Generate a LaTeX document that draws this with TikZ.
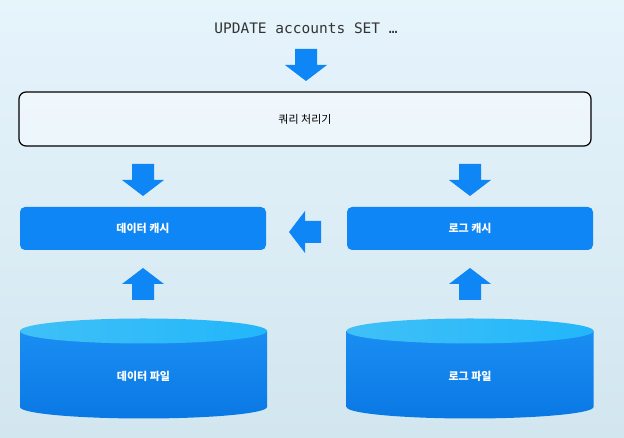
\documentclass[tikz,border=0pt]{standalone}
\usepackage{fontspec}
\newfontfamily\kr{Noto Sans CJK KR}
\newfontfamily\mono{DejaVu Sans Mono}
\definecolor{bgtop}{HTML}{E6F4FC}
\definecolor{bgbot}{HTML}{D2E6EF}
\definecolor{mblue}{HTML}{0F86F5}
\definecolor{cyltopA}{HTML}{40C0F7}
\definecolor{cyltopB}{HTML}{22B6FA}
\definecolor{cylbodyA}{HTML}{1A8EF3}
\definecolor{cylbodyB}{HTML}{0A78E4}
\tikzset{
  barrow/.pic={\fill[mblue] (-11,0) -- (-11,16) -- (11,16) -- (11,0) -- (21,0) -- (0,-16) -- (-21,0) -- cycle;},
  cachebox/.style={fill=mblue, rounded corners=5pt, minimum width=246pt, minimum height=43pt, inner sep=0pt,
    text=white, font=\kr\bfseries\fontsize{11}{13}\selectfont},
  cyllabel/.style={text=white, font=\kr\bfseries\fontsize{11}{13}\selectfont},
}
\begin{document}
\begin{tikzpicture}[x=1pt,y=1pt]
\shade[top color=bgtop,bottom color=bgbot] (0,0) rectangle (624,438);
\useasboundingbox (0,0) rectangle (624,438);
% title
\node[font=\mono\fontsize{14.5}{16}\selectfont, text=black!80] (title) at (306,410) {UPDATE accounts SET …};
\pic at (306,373) {barrow};
% query processor
\node[draw=black, line width=1.2pt, rounded corners=7pt, fill=white, fill opacity=0.45, text opacity=1,
  minimum width=572pt, minimum height=54pt, font=\kr\fontsize{11}{13}\selectfont] (qp) at (305,319) {쿼리 처리기};
\pic at (143,258) {barrow};
\pic at (470,258) {barrow};
% caches
\node[cachebox] (dc) at (143,209.5) {데이터 캐시};
\node[cachebox] (lc) at (470,209.5) {로그 캐시};
\pic[rotate=-90] at (305,206) {barrow};
\pic[rotate=180] at (143,154) {barrow};
\pic[rotate=180] at (470,154) {barrow};
% cylinders
\foreach \cx/\nm in {143.5/df,470/lf}{
  \shade[top color=cylbodyA, bottom color=cylbodyB]
    (\cx-123.5,107) -- (\cx-123.5,31) arc[start angle=180,end angle=360,x radius=123.5,y radius=11.5] -- (\cx+123.5,107) -- cycle;
  \shade[left color=cyltopA, right color=cyltopB] (\cx,107) ellipse[x radius=123.5, y radius=12.5];
}
\node[cyllabel] (dfl) at (143.5,62) {데이터 파일};
\node[cyllabel] (lfl) at (470,62) {로그 파일};
\end{tikzpicture}
\end{document}
